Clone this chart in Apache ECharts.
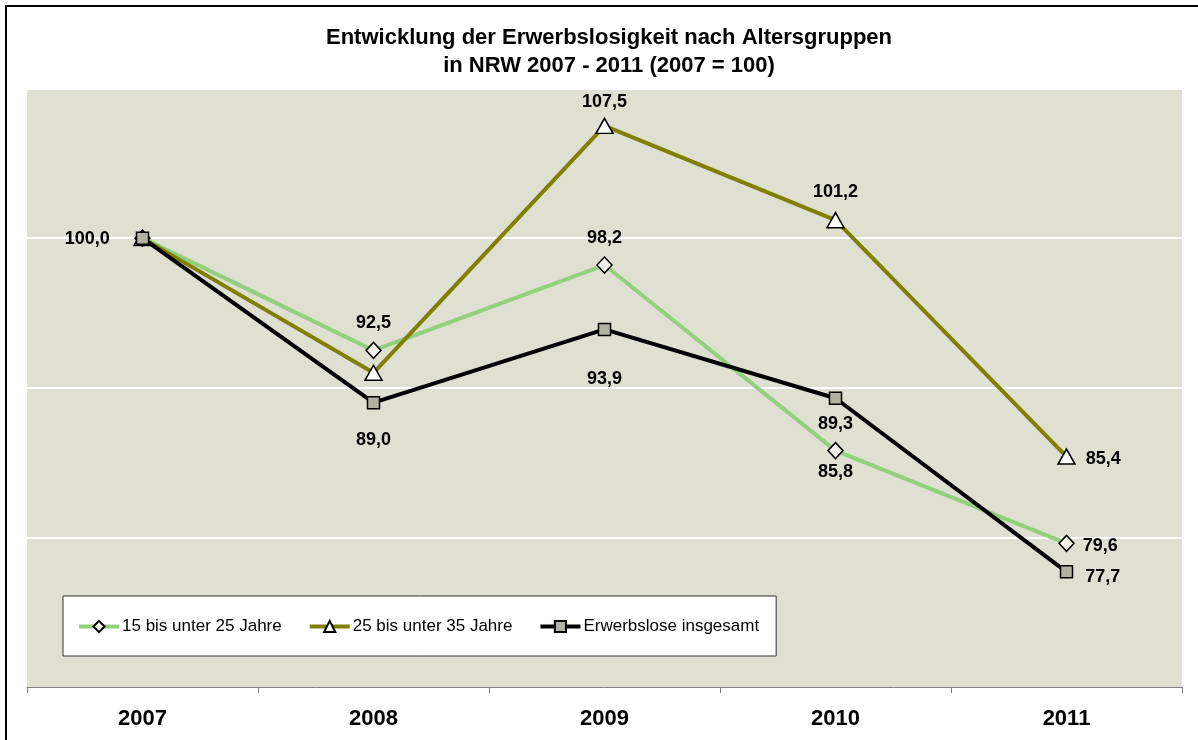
<!DOCTYPE html>
<html lang="de">
<head>
    <meta charset="UTF-8">
    <title>Erwerbslosigkeit NRW</title>
    <script src="https://cdn.jsdelivr.net/npm/echarts@6/dist/echarts.min.js"></script>
    <style>
        *{
            margin: 0;
            padding: 0;
        }
        html,body{
            width: 100%;
            height: 100%;
            background: #fff;
        }
        .container{
            width: 1198px;
            height: 740px;
        }
    </style>
</head>
<body>
<div class="container"></div>
<script>
    // Werte (2007 = 100)
    const years = ['2007', '2008', '2009', '2010', '2011'];
    const jung = [100.0, 92.5, 98.2, 85.8, 79.6];      // 15 bis unter 25 Jahre
    const mittel = [100.0, 91.0, 107.5, 101.2, 85.4];  // 25 bis unter 35 Jahre
    const gesamt = [100.0, 89.0, 93.9, 89.3, 77.7];    // Erwerbslose insgesamt

    let chart = echarts.init(document.querySelector('.container'));
    const font = '"Liberation Sans", Arial, sans-serif';

    // where each value label sits: [position, distance, y-offset] (null = no label)
    const labelPos = {
        jung:   [null, ['top', 10, 0], ['top', 9, 0], ['bottom', 4, 0], ['right', 8, 3]],
        mittel: [null, null, ['top', 7, 0], ['top', 11, 0], ['right', 10, 2]],
        gesamt: [['left', 26, 1], ['bottom', 22, 0], ['bottom', 34, 0], ['bottom', 10, 0], ['right', 12, 5]]
    };

    function fmt(v) {
        return v.toFixed(1).replace('.', ',');
    }

    function points(values, pos) {
        return values.map((v, i) => {
            let p = pos[i];
            return {
                value: v,
                label: p ? {
                    show: true,
                    position: p[0],
                    distance: p[1],
                    offset: [0, p[2]],
                    formatter: fmt(v),
                    fontFamily: font,
                    fontWeight: 'bold',
                    fontSize: 18,
                    color: '#000'
                } : {show: false}
            };
        });
    }

    let option = {
        backgroundColor: '#fff',
        animation: false,
        title: {
            text: 'Entwicklung der Erwerbslosigkeit nach Altersgruppen\nin NRW 2007 - 2011 (2007 = 100)',
            left: 604,
            top: 19,
            textAlign: 'center',
            textStyle: {
                fontFamily: font,
                fontWeight: 'bold',
                fontSize: 22,
                lineHeight: 28,
                color: '#000'
            }
        },
        graphic: [{
            type: 'rect',
            shape: {x: 6, y: 6, width: 1300, height: 800},
            style: {fill: null, stroke: '#000', lineWidth: 2},
            silent: true
        }],
        grid: {
            left: 27,
            right: 16,
            top: 90,
            bottom: 53,
            show: true,
            backgroundColor: '#dfdfd2',
            borderWidth: 0
        },
        legend: {
            left: 63,
            top: 596,
            padding: [22, 17, 21, 14],
            itemGap: 26,
            itemWidth: 40,
            itemHeight: 14,
            backgroundColor: '#fff',
            borderColor: '#333',
            borderWidth: 1,
            lineStyle: {width: 4},
            textStyle: {
                fontFamily: font,
                fontSize: 17,
                color: '#000',
                padding: [0, 0, 0, -2]
            },
            data: ['15 bis unter 25 Jahre', '25 bis unter 35 Jahre', 'Erwerbslose insgesamt']
        },
        xAxis: {
            type: 'category',
            data: years,
            boundaryGap: true,
            axisLine: {lineStyle: {color: '#808080', width: 1}},
            axisTick: {show: true, length: 6, lineStyle: {color: '#808080'}},
            axisLabel: {
                margin: 21,
                fontFamily: font,
                fontWeight: 'bold',
                fontSize: 22,
                color: '#000'
            }
        },
        yAxis: {
            type: 'value',
            min: 70,
            max: 109.9,
            interval: 10,
            axisLine: {show: false},
            axisTick: {show: false},
            axisLabel: {show: false},
            splitLine: {
                show: true,
                showMinLine: false,
                showMaxLine: false,
                lineStyle: {color: '#fff', width: 2}
            }
        },
        series: [{
            name: '15 bis unter 25 Jahre',
            type: 'line',
            data: points(jung, labelPos.jung),
            symbol: 'diamond',
            symbolSize: [15, 16],
            lineStyle: {color: '#92d07e', width: 4},
            itemStyle: {color: '#f2f2ea', borderColor: '#000', borderWidth: 1.5},
            z: 2
        }, {
            name: '25 bis unter 35 Jahre',
            type: 'line',
            data: points(mittel, labelPos.mittel),
            symbol: 'triangle',
            symbolSize: [17, 15],
            lineStyle: {color: '#808000', width: 4},
            itemStyle: {color: '#fff', borderColor: '#000', borderWidth: 1.5},
            z: 3
        }, {
            name: 'Erwerbslose insgesamt',
            type: 'line',
            data: points(gesamt, labelPos.gesamt),
            symbol: 'rect',
            symbolSize: 12,
            lineStyle: {color: '#000', width: 4},
            itemStyle: {color: '#b2b2a2', borderColor: '#000', borderWidth: 1.5},
            z: 4
        }]
    };
    chart.setOption(option);
</script>
</body>
</html>
